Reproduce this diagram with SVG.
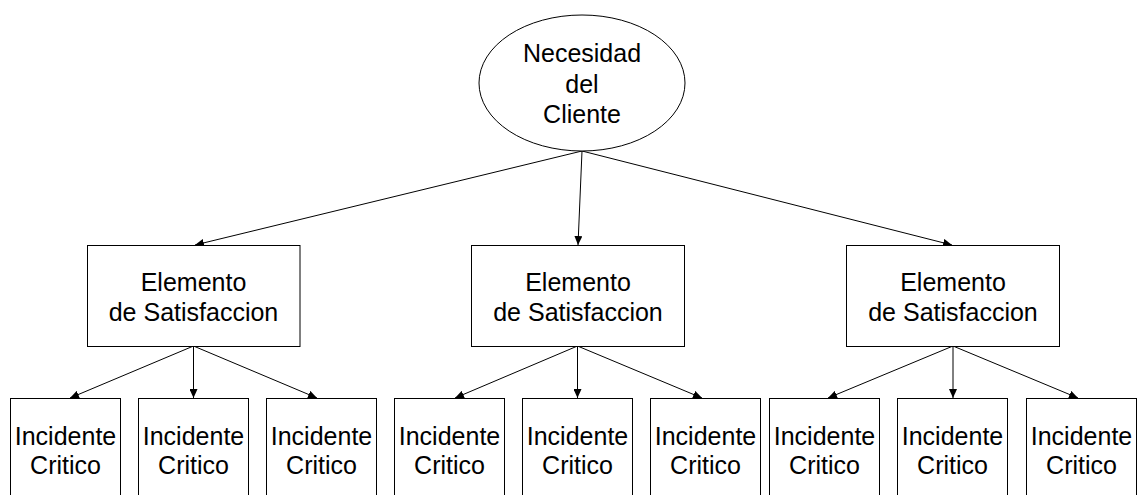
<svg xmlns="http://www.w3.org/2000/svg" width="1138" height="495" viewBox="0 0 1138 495">
<style>
  .shape { fill: #ffffff; stroke: #000000; stroke-width: 1; }
  .label { font-family: "Liberation Sans", Arial, sans-serif; font-size: 25px; fill: #000000; text-anchor: middle; }
  .edge { stroke: #000000; stroke-width: 1; fill: none; marker-end: url(#arrow); }
</style>
<defs>
  <marker id="arrow" markerUnits="userSpaceOnUse" markerWidth="9" markerHeight="8" refX="9" refY="4" orient="auto">
    <path d="M0,0 L9,4 L0,8 Z" fill="#000000"/>
  </marker>
</defs>
<rect width="1138" height="495" fill="#ffffff"/>

<g id="connectors">
  <line class="edge" x1="582" y1="151" x2="195" y2="245"/>
  <line class="edge" x1="582" y1="151" x2="578" y2="245"/>
  <line class="edge" x1="582" y1="151" x2="952" y2="245"/>

  <line class="edge" x1="193.5" y1="346" x2="70" y2="398"/>
  <line class="edge" x1="193.5" y1="346" x2="193.5" y2="398"/>
  <line class="edge" x1="193.5" y1="346" x2="317" y2="398"/>

  <line class="edge" x1="577.5" y1="346" x2="455" y2="398"/>
  <line class="edge" x1="577.5" y1="346" x2="577.5" y2="398"/>
  <line class="edge" x1="577.5" y1="346" x2="702" y2="398"/>

  <line class="edge" x1="953" y1="346" x2="828" y2="398"/>
  <line class="edge" x1="953" y1="346" x2="953" y2="398"/>
  <line class="edge" x1="953" y1="346" x2="1078" y2="398"/>
</g>

<g id="necesidad">
  <ellipse class="shape" cx="582" cy="83" rx="103" ry="68"/>
  <text class="label" x="582" y="62">Necesidad</text>
  <text class="label" x="582" y="93">del</text>
  <text class="label" x="582" y="123">Cliente</text>
</g>

<g id="elemento1">
  <rect class="shape" x="87.5" y="245.5" width="212.5" height="101"/>
  <text class="label" x="193.5" y="291">Elemento</text>
  <text class="label" x="193.5" y="321">de Satisfaccion</text>
</g>
<g id="elemento2">
  <rect class="shape" x="471.5" y="245.5" width="213" height="101"/>
  <text class="label" x="578" y="291">Elemento</text>
  <text class="label" x="578" y="321">de Satisfaccion</text>
</g>
<g id="elemento3">
  <rect class="shape" x="846.5" y="245.5" width="213" height="101"/>
  <text class="label" x="953" y="291">Elemento</text>
  <text class="label" x="953" y="321">de Satisfaccion</text>
</g>

<g id="incidente1">
  <rect class="shape" x="10.5" y="398.5" width="110" height="110"/>
  <text class="label" x="65.5" y="445">Incidente</text>
  <text class="label" x="65.5" y="474">Critico</text>
</g>
<g id="incidente2">
  <rect class="shape" x="138.5" y="398.5" width="110" height="110"/>
  <text class="label" x="193.5" y="445">Incidente</text>
  <text class="label" x="193.5" y="474">Critico</text>
</g>
<g id="incidente3">
  <rect class="shape" x="266.5" y="398.5" width="110" height="110"/>
  <text class="label" x="321.5" y="445">Incidente</text>
  <text class="label" x="321.5" y="474">Critico</text>
</g>
<g id="incidente4">
  <rect class="shape" x="394.5" y="398.5" width="110" height="110"/>
  <text class="label" x="449.5" y="445">Incidente</text>
  <text class="label" x="449.5" y="474">Critico</text>
</g>
<g id="incidente5">
  <rect class="shape" x="522.5" y="398.5" width="110" height="110"/>
  <text class="label" x="577.5" y="445">Incidente</text>
  <text class="label" x="577.5" y="474">Critico</text>
</g>
<g id="incidente6">
  <rect class="shape" x="650.5" y="398.5" width="110" height="110"/>
  <text class="label" x="705.5" y="445">Incidente</text>
  <text class="label" x="705.5" y="474">Critico</text>
</g>
<g id="incidente7">
  <rect class="shape" x="769.5" y="398.5" width="110" height="110"/>
  <text class="label" x="824.5" y="445">Incidente</text>
  <text class="label" x="824.5" y="474">Critico</text>
</g>
<g id="incidente8">
  <rect class="shape" x="897.5" y="398.5" width="110" height="110"/>
  <text class="label" x="952.5" y="445">Incidente</text>
  <text class="label" x="952.5" y="474">Critico</text>
</g>
<g id="incidente9">
  <rect class="shape" x="1026.5" y="398.5" width="110" height="110"/>
  <text class="label" x="1081.5" y="445">Incidente</text>
  <text class="label" x="1081.5" y="474">Critico</text>
</g>
</svg>
